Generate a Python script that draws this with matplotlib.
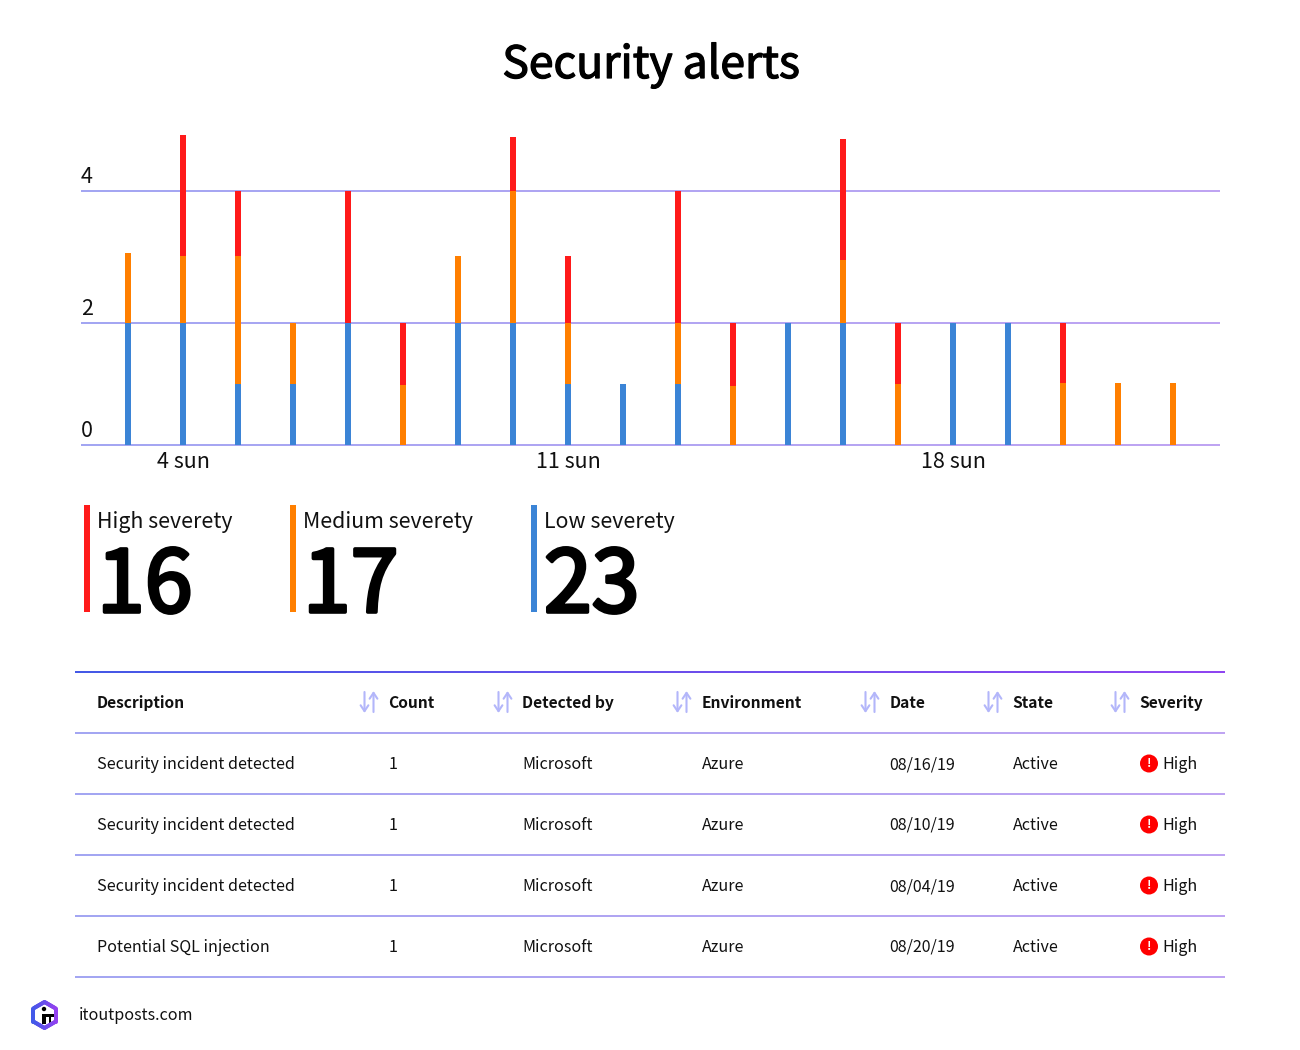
import matplotlib
matplotlib.use("Agg")
import matplotlib.pyplot as plt
import matplotlib.patheffects as pe
import numpy as np
from matplotlib.collections import LineCollection
from matplotlib.colors import to_rgb
from matplotlib.patches import Circle, Rectangle

plt.rcParams['font.family'] = ['Noto Sans CJK JP', 'DejaVu Sans']

# chart data
days = list(range(3, 23))
low = [2, 2, 1, 1, 2, 0, 2, 2, 1, 1, 1, 0, 2, 2, 0, 2, 2, 0, 0, 0]
medium = [1.06, 1.02, 2.02, 1, 0, 0.98, 1.02, 2, 1, 0, 1, 0.97, 0, 0.95, 1, 0, 0, 1.01, 1.01, 1.01]
high = [0, 1.83, 0.98, 0, 2, 1.02, 0, 0.82, 1.02, 0, 2, 1.03, 0, 1.84, 1, 0, 0, 0.99, 0, 0]
day_ticks = [4, 11, 18]
day_labels = ["4 sun", "11 sun", "18 sun"]
y_ticks = [0, 2, 4]

# summary numbers
stat_names = ["High severety", "Medium severety", "Low severety"]
stat_values = [16, 17, 23]

# table
columns = ["Description", "Count", "Detected by", "Environment", "Date", "State", "Severity"]
descriptions = ["Security incident detected", "Security incident detected",
                "Security incident detected", "Potential SQL injection"]
counts = ["1", "1", "1", "1"]
detected_by = ["Microsoft"] * 4
environments = ["Azure"] * 4
dates = ["08/16/19", "08/10/19", "08/04/19", "08/20/19"]
states = ["Active"] * 4
severities = ["High"] * 4

RED = "#ff1a1a"
ORANGE = "#ff7f00"
BLUE = "#3b84d6"
TEXT = "#111111"
W, H = 1300, 1050
PX = 0.72  # px to pt at dpi 100


def gradient_line(ax, x0, x1, y, c0, c1, lw):
    xs = np.linspace(x0, x1, 121)
    segs = [[(xs[i], y), (xs[i + 1], y)] for i in range(120)]
    t = np.linspace(0, 1, 120)[:, None]
    cols = (1 - t) * np.array(to_rgb(c0)) + t * np.array(to_rgb(c1))
    ax.add_collection(LineCollection(segs, colors=cols, linewidths=lw * PX, capstyle="butt",
                                     zorder=1, clip_on=False))


def heavy(width):
    # semibold look, the font only comes in regular and bold here
    return [pe.withStroke(linewidth=width, foreground="#000000")]


fig = plt.figure(figsize=(W / 100, H / 100), dpi=100)

# overlay in pixel coordinates for the layout parts
page = fig.add_axes([0, 0, 1, 1])
page.set_xlim(0, W)
page.set_ylim(H, 0)
page.axis("off")

page.text(651, 78, "Security alerts", ha="center", va="baseline", fontsize=44.5 * PX, color="#000000",
          path_effects=heavy(0.9))

# stacked bars, the y axis of the original isn't even between 0-2 and 2-4
ax = fig.add_axes([81 / W, 1 - 445 / H, (1220 - 81) / W, 320 / H])
ax.patch.set_alpha(0)
fwd = lambda v: np.interp(v, [0, 2, 4, 6], [0, 122, 254, 386])
inv = lambda v: np.interp(v, [0, 122, 254, 386], [0, 2, 4, 6])
ax.set_yscale("function", functions=(fwd, inv))
ax.set_ylim(0, 5)
ax.set_xlim(3 - 47 / 55, 3 + 1092 / 55)
for s in ax.spines.values():
    s.set_visible(False)

for v in y_ticks:
    gradient_line(ax, ax.get_xlim()[0], ax.get_xlim()[1], v, "#a3a6f2", "#bfa4f2", 2)
    ax.annotate(str(v), (0, v), xycoords=ax.get_yaxis_transform(), xytext=(0, 14 * PX),
                textcoords="offset points", ha="left", va="center", fontsize=21.5 * PX, color=TEXT)

w = 6 / 55
b = np.array(low, dtype=float)
ax.bar(days, low, width=w, color=BLUE, zorder=2)
ax.bar(days, medium, width=w, bottom=b, color=ORANGE, zorder=2)
ax.bar(days, high, width=w, bottom=b + np.array(medium), color=RED, zorder=2)

ax.set_yticks([])
ax.set_xticks(day_ticks)
ax.set_xticklabels(day_labels, fontsize=21.5 * PX, color=TEXT)
ax.tick_params(axis="x", length=0, pad=4.5)

# summary blocks
stat_x = [84, 290, 531]
for x, name, val, col in zip(stat_x, stat_names, stat_values, [RED, ORANGE, BLUE]):
    page.add_patch(Rectangle((x, 505), 6, 107, color=col, lw=0))
    page.text(x + 13, 528, name, va="baseline", fontsize=21.3 * PX, color=TEXT)
    page.text(x + 13, 612, str(val), va="baseline", fontsize=86 * PX, color="#000000",
              path_effects=heavy(2.6))

# table
col_x = [97, 388.5, 522.5, 701.5, 889.5, 1012.5, 1139.5]
row_y = [769, 830, 891, 952]
gradient_line(page, 75, 1225, 672, "#4459e6", "#8f45f0", 2)
for y in [733, 794, 855, 916, 977]:
    gradient_line(page, 75, 1225, y, "#a3a6f2", "#bfa4f2", 2)

for i, (x, c) in enumerate(zip(col_x, columns)):
    page.text(x, 708, c, va="baseline", fontsize=15.6 * PX, weight="bold", color=TEXT)
    if i > 0:
        ax_x = x - 19
        page.annotate("", xy=(ax_x - 5, 713), xytext=(ax_x - 5, 692),
                      arrowprops=dict(arrowstyle="->,head_width=0.28,head_length=0.42", color="#b3b6fa", lw=1.5, shrinkA=0, shrinkB=0))
        page.annotate("", xy=(ax_x + 4, 691), xytext=(ax_x + 4, 712),
                      arrowprops=dict(arrowstyle="->,head_width=0.28,head_length=0.42", color="#b3b6fa", lw=1.5, shrinkA=0, shrinkB=0))

table_cols = [descriptions, counts, detected_by, environments, dates, states]
for x, col in zip(col_x, table_cols):
    for y, val in zip(row_y, col):
        page.text(x, y, val, va="baseline", fontsize=16.1 * PX, color=TEXT)
for y, val in zip(row_y, severities):
    page.add_patch(Circle((1149, y - 5.5), 9, color="#ff0000", lw=0))
    page.text(1149, y - 5.5, "!", ha="center", va="center", fontsize=12 * PX, weight="bold", color="white")
    page.text(1162.5, y, val, va="baseline", fontsize=16.1 * PX, color=TEXT)

# footer logo
ang = np.radians(np.arange(-90, 300, 60))
hx = 44.5 + 13 * np.cos(ang)
hy = 1015 + 13 * np.sin(ang)
for i in range(6):
    xs = np.linspace(hx[i], hx[i + 1], 12)
    ys = np.linspace(hy[i], hy[i + 1], 12)
    for j in range(11):
        f = (xs[j] - 31) / 27
        col = (1 - f) * np.array(to_rgb("#3b5be8")) + f * np.array(to_rgb("#9b3ff0"))
        page.plot(xs[j:j + 2], ys[j:j + 2], color=col, lw=4 * PX, solid_capstyle="round")
page.add_patch(Circle((44, 1009), 2.2, color="black", lw=0))
page.add_patch(Rectangle((42, 1014), 4, 10, color="black", lw=0))
page.add_patch(Rectangle((46, 1014), 8, 3, color="black", lw=0))
page.add_patch(Rectangle((49, 1017), 2, 6, color="black", lw=0))
page.text(79, 1020, "itoutposts.com", va="baseline", fontsize=16.1 * PX, color=TEXT)
page.set_xlim(0, W)
page.set_ylim(H, 0)

fig.savefig("out.png", dpi=100)
